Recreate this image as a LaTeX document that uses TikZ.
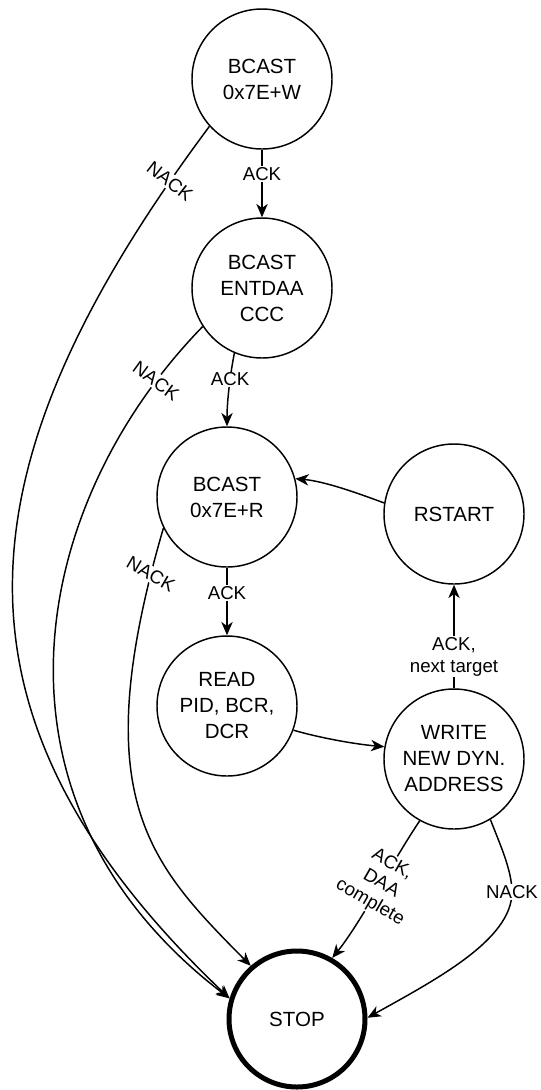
\documentclass[tikz,border=0pt]{standalone}
\usepackage{fontspec}
\setmainfont{Liberation Sans}
\usetikzlibrary{arrows.meta}
\begin{document}
\begin{tikzpicture}[x=0.75pt,y=-0.75pt,
  state/.style={circle,draw,line width=1.1pt,minimum size=105pt,inner sep=0pt,
    align=center,font=\fontsize{15.4}{19.5}\selectfont},
  final/.style={state,line width=3.75pt,minimum size=102pt},
  edge/.style={line width=1.1pt,-{Stealth[length=10pt,width=8.5pt,inset=3pt]}},
  lbl/.style={fill=white,inner sep=1pt,align=center,
    font=\fontsize{14}{16.5}\selectfont}]
\useasboundingbox (0,0) rectangle (540,1090);

% states
\node[state] (w)   at (262,79)   {BCAST\\0x7E+W};
\node[state] (ent) at (262,288)  {BCAST\\ENTDAA\\CCC};
\node[state] (bcr) at (227,497)  {BCAST\\0x7E+R};
\node[state] (rs)  at (454,514)  {RSTART};
\node[state] (rd)  at (227,706)  {READ\\PID, BCR,\\DCR};
\node[state] (wr)  at (454,759)  {WRITE\\NEW DYN.\\ADDRESS};
\node[final] (stop) at (297,1019) {STOP};

% main sequence
\draw[edge] (w.south) -- node[lbl,pos=0.36] {ACK} (ent.north);
\draw[edge] (ent.247) .. controls (230.6,372) and (227,400) .. node[lbl,pos=0.4] {ACK} (bcr.north);
\draw[edge] (bcr.south) -- node[lbl,pos=0.38] {ACK} (rd.north);
\draw[edge] (rd.-20) .. controls (321.6,738.3) and (355.1,744.1) .. (wr.170);
\draw[edge] (wr.north) -- node[lbl,pos=0.305] {ACK,\\next target} (rs.south);
\draw[edge] (rs.171) .. controls (356.7,492.8) and (324.6,481.3) .. (bcr.15);

% exits to STOP
\draw[edge] (w.222.6) .. controls (-43,465) and (-68,715) ..
  node[lbl,pos=0.055,rotate=-38] {NACK} (stop.163);
\draw[edge] (ent.213) .. controls (27,507) and (-26,803) ..
  node[lbl,pos=0.095,rotate=-36] {NACK} (stop.163);
\draw[edge] (bcr.206) .. controls (85,797) and (149,863) ..
  node[lbl,pos=0.06,rotate=-30] {NACK} (stop.131);
\draw[edge] (wr.241.6) .. controls (395,857) and (360.5,923) ..
  node[lbl,pos=0.46,rotate=-30] {ACK,\\DAA\\complete} (stop.60.5);
\draw[edge] (wr.-59.5) .. controls (499,842) and (512,870) .. (512,892)
  node[lbl] {NACK}
  .. controls (512,940) and (435,980) .. (stop.1);
\end{tikzpicture}
\end{document}
